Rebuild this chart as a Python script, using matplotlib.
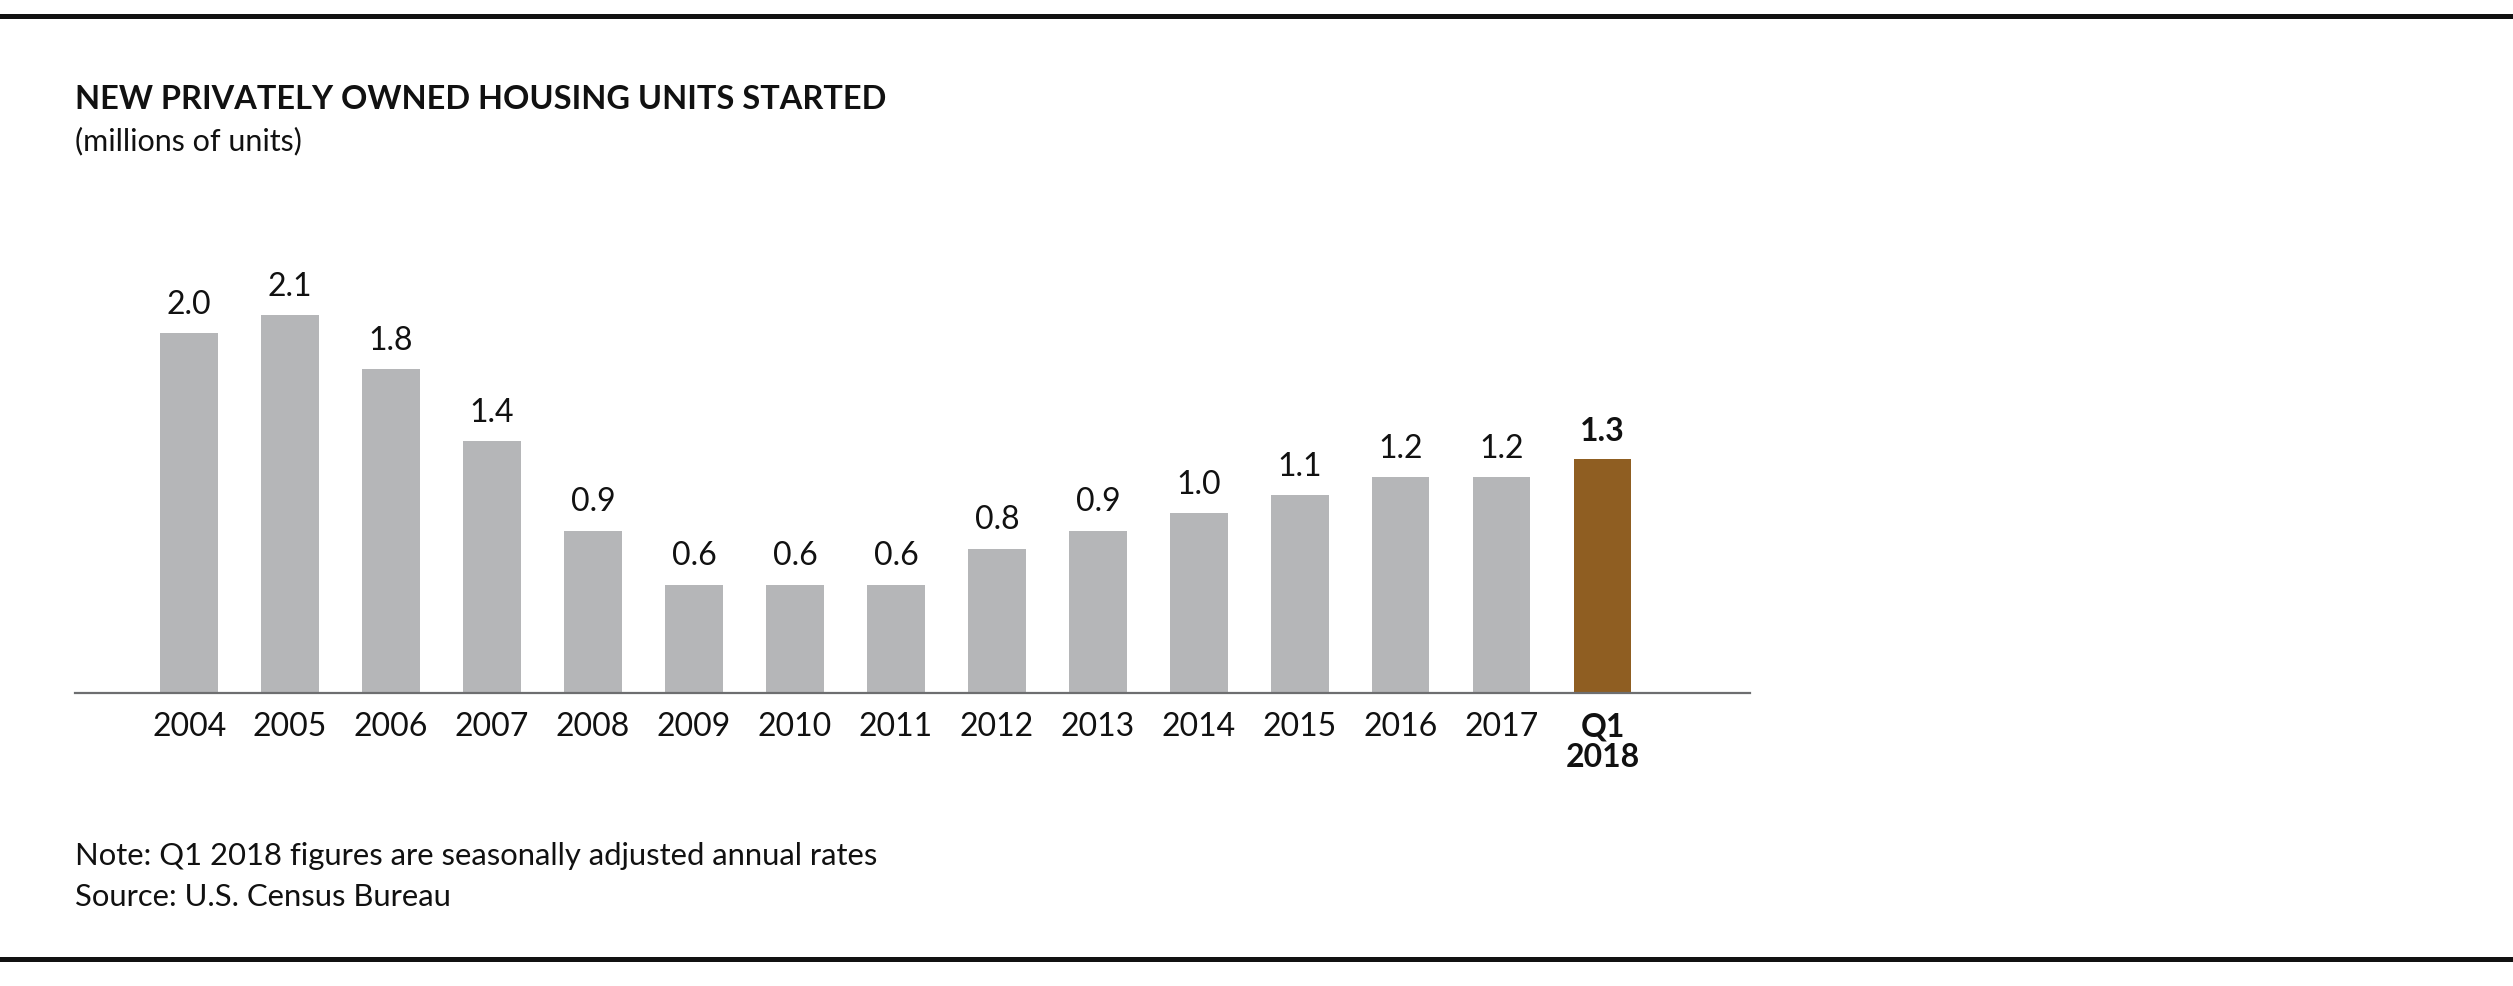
import matplotlib.pyplot as plt
from matplotlib.lines import Line2D

# values (millions of units)
years = ['2004', '2005', '2006', '2007', '2008', '2009', '2010', '2011',
         '2012', '2013', '2014', '2015', '2016', '2017', 'Q1\n2018']
starts = [2.0, 2.1, 1.8, 1.4, 0.9, 0.6, 0.6, 0.6, 0.8, 0.9, 1.0, 1.1, 1.2, 1.2, 1.3]
labels = ['2.0', '2.1', '1.8', '1.4', '0.9', '0.6', '0.6', '0.6',
          '0.8', '0.9', '1.0', '1.1', '1.2', '1.2', '1.3']

grey = '#B5B6B8'
brown = '#8F5E22'

plt.rcParams['font.family'] = ['Lato', 'DejaVu Sans']

fig = plt.figure(figsize=(25.13, 9.86), dpi=100)
ax = fig.add_axes([0.030, 0.2976, 0.6664, 0.4553])

x = list(range(len(years)))
colors = [grey] * (len(years) - 1) + [brown]
bars = ax.bar(x, starts, width=0.57, color=colors)

for i, (b, lab) in enumerate(zip(bars, labels)):
    last = i == len(years) - 1
    ax.text(b.get_x() + b.get_width() / 2, b.get_height() + 0.075, lab,
            ha='center', va='bottom', fontsize=23,
            fontweight='bold' if last else 'normal', color='#111111')

ax.set_xlim(-1.127, 15.46)
ax.set_ylim(0, 2.5)
ax.set_xticks(x)
ax.set_xticklabels(years, fontsize=23, color='#111111', linespacing=1.1)
ax.get_xticklabels()[-1].set_fontweight('bold')
ax.tick_params(axis='x', length=0, pad=14)
ax.set_yticks([])
for s in ['top', 'right', 'left']:
    ax.spines[s].set_visible(False)
ax.spines['bottom'].set_color('#6d6e70')
ax.spines['bottom'].set_linewidth(1.6)

fig.text(0.030, 0.899, 'NEW PRIVATELY OWNED HOUSING UNITS STARTED',
         fontsize=23.4, fontweight='bold', va='center', ha='left', color='#111111')
fig.text(0.030, 0.857, '(millions of units)', fontsize=22, va='center', ha='left', color='#111111')

fig.text(0.030, 0.132, 'Note: Q1 2018 figures are seasonally adjusted annual rates',
         fontsize=22.3, va='center', ha='left', color='#111111')
fig.text(0.030, 0.090, 'Source: U.S. Census Bureau',
         fontsize=22.3, va='center', ha='left', color='#111111')

# heavy rules at top and bottom
fig.add_artist(Line2D([0, 1], [0.984, 0.984], color='#111111', lw=3.6, transform=fig.transFigure))
fig.add_artist(Line2D([0, 1], [0.0276, 0.0276], color='#111111', lw=3.6, transform=fig.transFigure))

fig.savefig('out.png', dpi=100, facecolor='white')
